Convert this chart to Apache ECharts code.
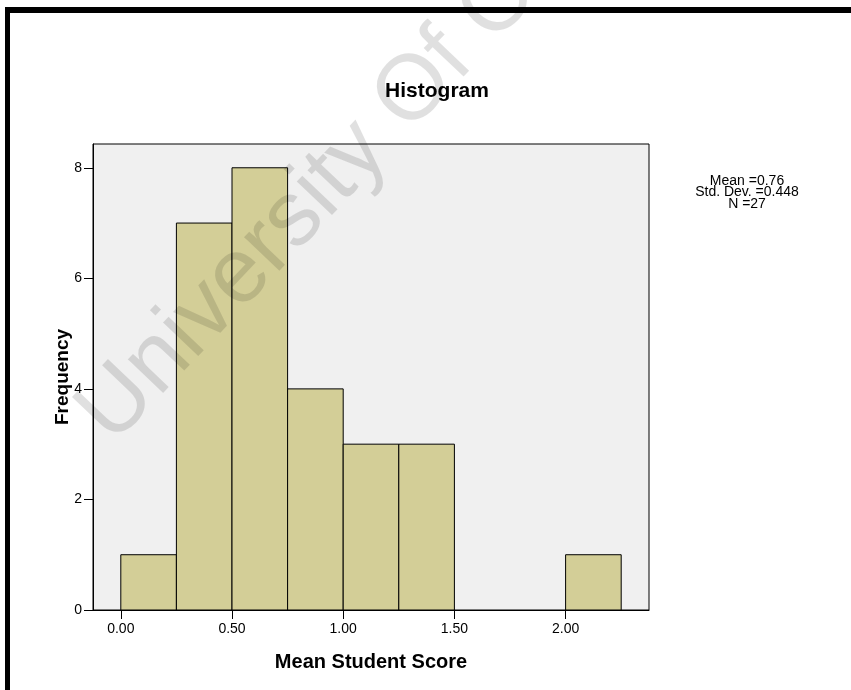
<!DOCTYPE html>
<html>
<head>
<meta charset="utf-8">
<script src="https://cdn.jsdelivr.net/npm/echarts@6/dist/echarts.min.js"></script>
<style>html,body{margin:0;padding:0;background:#fff;}#chart{width:851px;height:690px;}</style>
</head>
<body>
<div id="chart"></div>
<script>
// ---- data ----
const binLower = [0.00, 0.25, 0.50, 0.75, 1.00, 1.25, 1.50, 1.75, 2.00];
const binUpper = [0.25, 0.50, 0.75, 1.00, 1.25, 1.50, 1.75, 2.00, 2.25];
const frequency = [1, 7, 8, 4, 3, 3, 0, 0, 1];
const xTickValues = [0.0, 0.5, 1.0, 1.5, 2.0];
const yTickValues = [0, 2, 4, 6, 8];
const statsLines = ['Mean =0.76', 'Std. Dev. =0.448', 'N =27'];
const titleText = 'Histogram';
const xName = 'Mean Student Score';
const yName = 'Frequency';
const watermark = 'University Of Cape Town';

const barData = binLower.map((lo, i) => [lo, binUpper[i], frequency[i]]).filter(d => d[2] > 0);

const chart = echarts.init(document.getElementById('chart'), null, {renderer: 'canvas'});
const FONT = 'Liberation Sans, Arial, sans-serif';

chart.setOption({
  animation: false,
  backgroundColor: '#ffffff',
  grid: {
    left: 93, top: 144, width: 556, height: 466,
    show: true, backgroundColor: '#f0f0f0', borderColor: '#000', borderWidth: 1
  },
  xAxis: {
    type: 'value', min: -0.125, max: 2.375,
    name: xName, nameLocation: 'middle', nameGap: 42,
    nameTextStyle: {fontFamily: FONT, fontSize: 20, fontWeight: 'bold', color: '#000'},
    axisLine: {show: true, onZero: false, lineStyle: {color: '#000', width: 1}},
    axisTick: {show: true, length: 9, lineStyle: {color: '#000'}, customValues: xTickValues},
    axisLabel: {show: true, margin: 12, fontFamily: FONT, fontSize: 14, color: '#000',
      customValues: xTickValues, formatter: v => Number(v).toFixed(2)},
    splitLine: {show: false}
  },
  yAxis: {
    type: 'value', min: 0, max: 8.43,
    name: yName, nameLocation: 'middle', nameGap: 21, nameRotate: 90, nameMoveOverlap: false,
    nameTextStyle: {fontFamily: FONT, fontSize: 19, fontWeight: 'bold', color: '#000'},
    axisLine: {show: true, onZero: false, lineStyle: {color: '#000', width: 1}},
    axisTick: {show: true, length: 9, lineStyle: {color: '#000'}, customValues: yTickValues},
    axisLabel: {show: true, margin: 11, fontFamily: FONT, fontSize: 14, color: '#000',
      customValues: yTickValues, formatter: v => String(Math.round(v))},
    splitLine: {show: false}
  },
  series: [{
    type: 'custom',
    data: barData,
    renderItem: function (params, api) {
      const p0 = api.coord([api.value(0), 0]);
      const p1 = api.coord([api.value(1), api.value(2)]);
      return {
        type: 'rect',
        shape: {x: p0[0], y: p1[1], width: p1[0] - p0[0], height: p0[1] - p1[1]},
        style: {fill: '#d3ce97', stroke: '#000', lineWidth: 1}
      };
    },
    encode: {x: [0, 1], y: 2}
  }],
  graphic: [
    {type: 'rect', shape: {x: 5, y: 7, width: 846, height: 6}, style: {fill: '#000'}, z: 10},
    {type: 'rect', shape: {x: 5, y: 7, width: 5, height: 683}, style: {fill: '#000'}, z: 10},
    {type: 'text', x: 437, y: 91, style: {text: titleText, font: 'bold 21px ' + FONT, fill: '#000',
      textAlign: 'center', textVerticalAlign: 'middle'}, z: 10},
    {type: 'text', x: 747, y: 175, style: {text: statsLines.join('\n'), font: '14px ' + FONT, fill: '#000',
      textAlign: 'center', textVerticalAlign: 'top', lineHeight: 11.5}, z: 10},
    {type: 'text', x: 128, y: 460, rotation: 46.5 * Math.PI / 180,
      style: {text: watermark, font: '92px ' + FONT, fill: 'rgba(0,0,0,0.12)',
      textAlign: 'left', textVerticalAlign: 'bottom'}, z: 100}
  ]
});
</script>
</body>
</html>
